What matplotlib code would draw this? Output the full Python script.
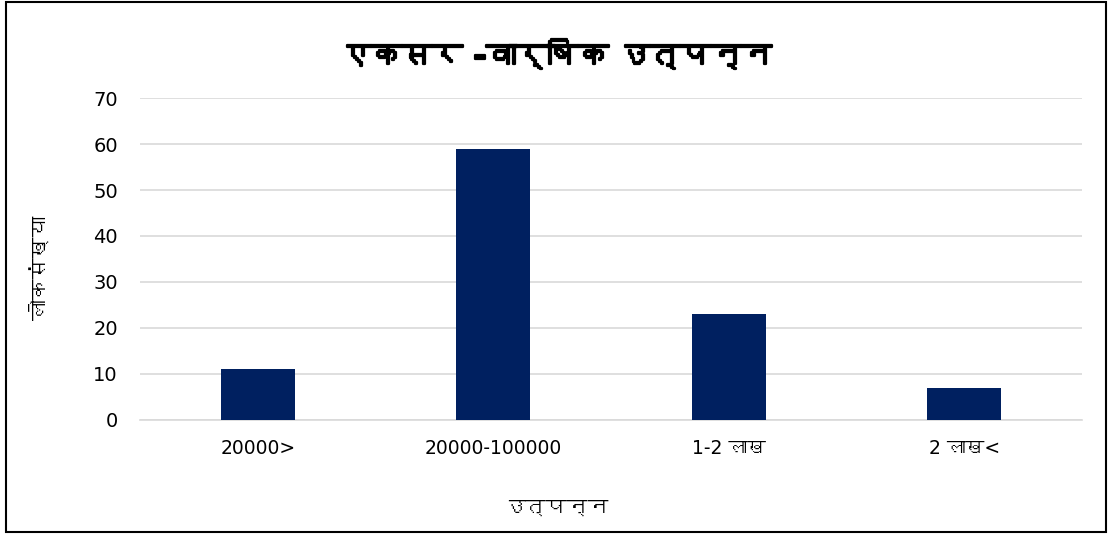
import matplotlib
matplotlib.use("Agg")
import matplotlib.pyplot as plt
import matplotlib.patheffects as pe
from matplotlib import font_manager
from matplotlib.ft2font import FT2Font
from matplotlib.patches import Rectangle

categories = ["20000>", "20000-100000", "1-2 लाख", "2 लाख<"]
values = [11, 59, 23, 7]
yticks = [0, 10, 20, 30, 40, 50, 60, 70]

title = "एकसर -वार्षिक उत्पन्न"
xlabel = "उत्पन्न"
ylabel = "लोकसंख्या"


# look for any installed font that has Devanagari glyphs
def find_deva_font():
    for f in font_manager.fontManager.ttflist:
        try:
            ft = FT2Font(f.fname)
            if ft.get_char_index(0x0915) and ft.get_char_index(0x0932):
                return f.name
        except Exception:
            pass
    return None


deva = find_deva_font()
fams = ["DejaVu Sans"]
if deva:
    fams = ["DejaVu Sans", deva]
plt.rcParams["font.family"] = fams

fig = plt.figure(figsize=(11.12, 5.35), dpi=100)
ax = fig.add_axes([0.1259, 0.215, 0.8471, 0.6018])

x = list(range(len(categories)))
ax.bar(x, values, width=0.315, color="#002060", zorder=3)

ax.set_xlim(-0.5, 3.5)
ax.set_ylim(0, 70)
ax.set_yticks(yticks)
ax.set_xticks(x)
ax.set_xticklabels(categories, fontsize=13.5)
ax.tick_params(axis="y", labelsize=14, length=0, pad=16)
ax.tick_params(axis="x", length=0, pad=14)
ax.grid(axis="y", color="#d9d9d9", linewidth=1.2, zorder=0)
for s in ["top", "right", "left"]:
    ax.spines[s].set_visible(False)
ax.spines["bottom"].set_color("#d9d9d9")
ax.spines["bottom"].set_linewidth(1.2)

fig.text(0.5, 0.895, title, ha="center", va="center", fontsize=22, fontweight="bold",
         path_effects=[pe.withStroke(linewidth=1.6, foreground="black")])
fig.text(0.5, 0.05, xlabel, ha="center", va="center", fontsize=15)
fig.text(0.037, 0.5, ylabel, ha="center", va="center", fontsize=15, rotation=90)

fig.patches.append(Rectangle((0.005, 0.006), 0.99, 0.99, transform=fig.transFigure,
                             fill=False, edgecolor="black", linewidth=1.5))

fig.savefig("out.png", dpi=100)
